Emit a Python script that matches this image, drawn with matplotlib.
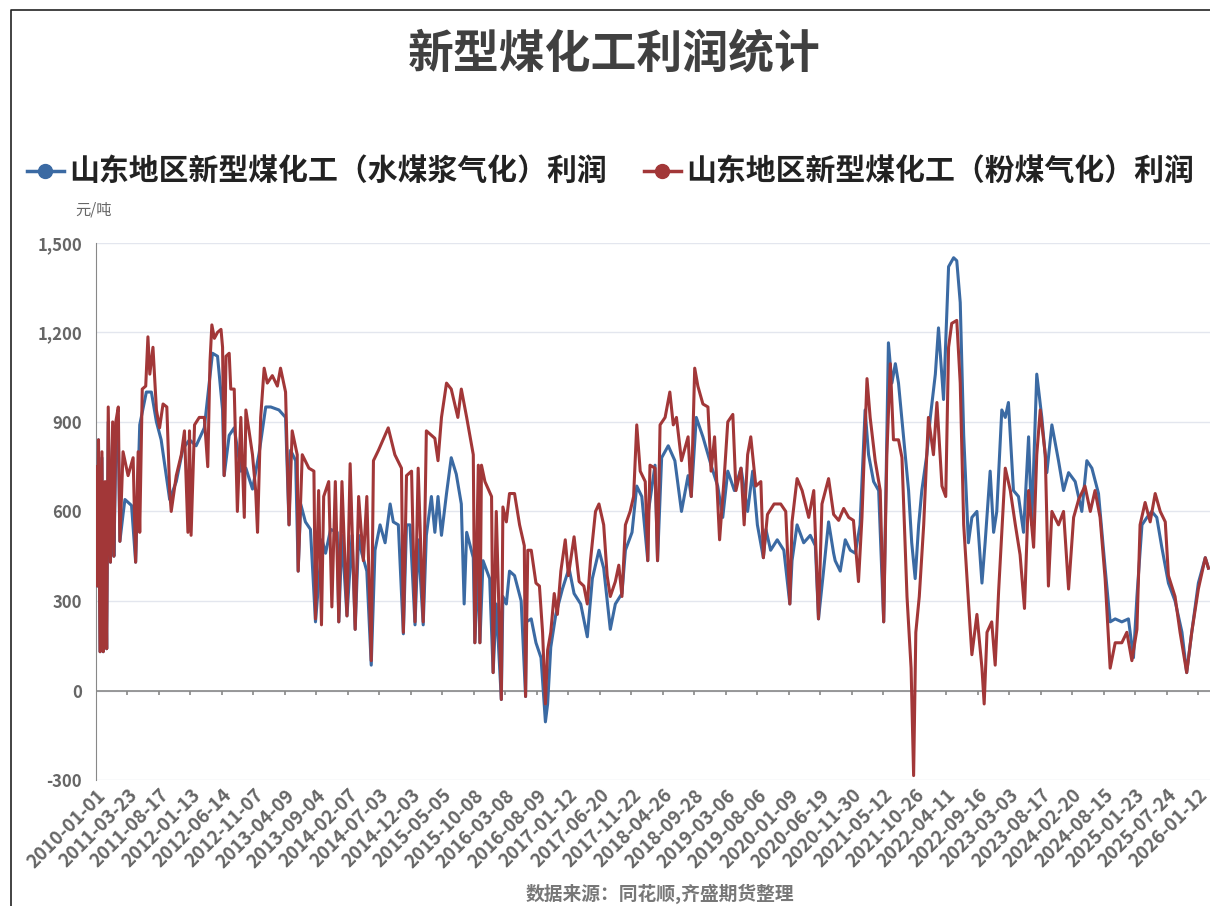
import matplotlib
matplotlib.use("Agg")
import matplotlib.pyplot as plt
import numpy as np

plt.rcParams['font.family'] = ['Noto Sans CJK SC', 'DejaVu Sans']

# x axis category labels (evenly spaced, as in the original category axis)
tick_labels = ["2010-01-01", "2011-03-23", "2011-08-17", "2012-01-13", "2012-06-14", "2012-11-07",
               "2013-04-09", "2013-09-04", "2014-02-07", "2014-07-03", "2014-12-03", "2015-05-05",
               "2015-10-08", "2016-03-08", "2016-08-09", "2017-01-12", "2017-06-20", "2017-11-22",
               "2018-04-26", "2018-09-28", "2019-03-06", "2019-08-06", "2020-01-09", "2020-06-19",
               "2020-11-30", "2021-05-12", "2021-10-26", "2022-04-11", "2022-09-16", "2023-03-03",
               "2023-08-17", "2024-02-20", "2024-08-15", "2025-01-23", "2025-07-24", "2026-01-12"]

# position along the category axis (in label intervals) and profit, yuan/t
red_pos = [0, 0.04, 0.08, 0.13, 0.19, 0.23, 0.29, 0.34, 0.39, 0.46, 0.53, 0.57, 0.63, 0.71, 0.76, 0.86,
           1.02, 1.18, 1.26, 1.34, 1.39, 1.47, 1.58, 1.65, 1.71, 1.81, 1.92, 2.02, 2.13, 2.25, 2.34, 2.39,
           2.55, 2.71, 2.81, 2.92, 2.97, 3.02, 3.13, 3.28, 3.44, 3.55, 3.62, 3.68, 3.76, 3.86, 3.97, 4.02,
           4.07, 4.13, 4.23, 4.28, 4.39, 4.49, 4.6, 4.71, 4.76, 4.86, 4.97, 5.07, 5.13, 5.23, 5.34, 5.44,
           5.6, 5.76, 5.86, 6.02, 6.13, 6.23, 6.39, 6.42, 6.55, 6.76, 6.92, 6.97, 7.07, 7.16, 7.23, 7.39,
           7.49, 7.6, 7.71, 7.81, 7.97, 8.07, 8.23, 8.34, 8.49, 8.6, 8.74, 8.81, 8.97, 9.28, 9.49, 9.7,
           9.76, 9.86, 10.02, 10.13, 10.23, 10.39, 10.49, 10.76, 10.86, 10.97, 11.13, 11.28, 11.49, 11.6,
           11.77, 11.98, 12.03, 12.14, 12.19, 12.24, 12.35, 12.56, 12.61, 12.71, 12.87, 12.92, 13.03, 13.13,
           13.29, 13.45, 13.6, 13.64, 13.71, 13.82, 13.97, 14.08, 14.18, 14.27, 14.34, 14.44, 14.55, 14.65,
           14.76, 14.9, 15.0, 15.18, 15.34, 15.49, 15.6, 15.7, 15.86, 15.97, 16.12, 16.23, 16.33, 16.49,
           16.6, 16.7, 16.81, 16.96, 17.07, 17.17, 17.28, 17.44, 17.52, 17.59, 17.75, 17.83, 17.91, 18.07,
           18.22, 18.33, 18.43, 18.59, 18.8, 18.9, 19.01, 19.11, 19.27, 19.43, 19.53, 19.64, 19.8, 19.95,
           20.06, 20.22, 20.32, 20.48, 20.58, 20.69, 20.79, 20.95, 21.11, 21.19, 21.32, 21.53, 21.74, 21.9,
           22.03, 22.1, 22.26, 22.42, 22.63, 22.79, 22.94, 23.05, 23.26, 23.42, 23.58, 23.74, 23.9, 24.05,
           24.21, 24.32, 24.48, 24.58, 24.74, 24.9, 25.01, 25.11, 25.22, 25.32, 25.48, 25.59, 25.75, 25.88,
           25.96, 26.03, 26.14, 26.28, 26.43, 26.59, 26.7, 26.86, 26.98, 27.07, 27.17, 27.33, 27.44, 27.55,
           27.7, 27.81, 27.97, 28.13, 28.2, 28.29, 28.44, 28.55, 28.66, 28.76, 28.87, 29.03, 29.19, 29.34,
           29.48, 29.61, 29.77, 29.87, 29.98, 30.14, 30.24, 30.35, 30.56, 30.72, 30.88, 31.04, 31.2, 31.4,
           31.57, 31.72, 31.88, 32.04, 32.2, 32.36, 32.57, 32.73, 32.89, 33.05, 33.15, 33.31, 33.47, 33.63,
           33.79, 33.95, 34.05, 34.26, 34.42, 34.63, 34.79, 35.0, 35.22, 35.32]
red_val = [750, 350, 840, 130, 800, 130, 700, 140, 950, 430, 900, 450, 900, 950, 500, 800,
           720, 780, 430, 800, 530, 1010, 1020, 1185, 1060, 1150, 940, 880, 960, 950, 670, 600,
           720, 790, 870, 530, 870, 520, 890, 915, 915, 750, 1100, 1225, 1180, 1200, 1210, 1150,
           720, 1120, 1130, 1010, 1010, 600, 915, 580, 940, 870, 790, 670, 530, 915, 1080, 1030,
           1055, 1020, 1080, 1000, 555, 870, 790, 400, 790, 745, 735, 240, 670, 220, 650, 700,
           280, 700, 230, 700, 250, 760, 205, 650, 435, 650, 100, 770, 805, 880, 790, 745,
           195, 720, 735, 230, 745, 230, 870, 845, 770, 915, 1030, 1010, 915, 1010,
           915, 790, 160, 755, 160, 755, 700, 650, 60, 600, -30, 615, 565, 660,
           660, 555, 485, -20, 470, 470, 360, 350, 195, -45, 135, 195, 325, 255,
           400, 505, 385, 515, 365, 350, 290, 435, 600, 625, 555, 385, 315, 365,
           420, 315, 555, 600, 650, 890, 735, 700, 435, 755, 745, 435, 890, 915,
           1000, 890, 915, 770, 850, 650, 1080, 1020, 960, 950, 735, 850, 505, 720,
           900, 925, 670, 745, 555, 790, 850, 685, 700, 445, 590, 625, 625, 600,
           290, 565, 710, 670, 580, 670, 240, 625, 710, 590, 570, 610, 580, 570,
           365, 580, 1045, 915, 770, 670, 230, 790, 1095, 840, 840, 780, 315, 75,
           -285, 195, 315, 555, 915, 790, 965, 685, 650, 1150, 1230, 1240, 1030, 555,
           300, 120, 255, 75, -45, 195, 230, 85, 335, 530, 745, 670, 555, 455,
           275, 670, 480, 790, 940, 790, 350, 600, 555, 600, 340, 580, 640, 685,
           600, 670, 580, 375, 75, 160, 160, 195, 100, 205, 555, 630, 565, 660,
           600, 565, 385, 315, 195, 60, 195, 340, 445, 410]

blue_pos = [0, 0.04, 0.08, 0.13, 0.19, 0.23, 0.29, 0.34, 0.39, 0.46, 0.53, 0.57, 0.63, 0.71, 0.76, 0.86,
            0.92, 1.13, 1.26, 1.39, 1.6, 1.76, 1.92, 2.07, 2.34, 2.55, 2.76, 2.97, 3.18, 3.44, 3.7, 3.86,
            4.02, 4.07, 4.23, 4.39, 4.6, 4.76, 4.97, 5.18, 5.39, 5.55, 5.81, 6.02, 6.13, 6.18, 6.34, 6.42,
            6.5, 6.65, 6.81, 6.97, 7.18, 7.29, 7.45, 7.66, 7.71, 7.81, 7.97, 8.13, 8.23, 8.34, 8.44, 8.6,
            8.74, 8.86, 9.02, 9.18, 9.34, 9.44, 9.6, 9.76, 9.86, 9.97, 10.13, 10.23, 10.39, 10.49, 10.65,
            10.76, 10.86, 10.97, 11.13, 11.28, 11.44, 11.6,
            11.69, 11.77, 11.98, 12.03, 12.14, 12.19, 12.29, 12.5, 12.61, 12.71, 12.87, 12.92, 13.03, 13.13,
            13.29, 13.5, 13.64, 13.66, 13.82, 13.97, 14.13, 14.27, 14.34, 14.44, 14.6, 14.81, 15.02, 15.18,
            15.39, 15.6, 15.76, 15.97, 16.12, 16.33, 16.49, 16.7, 16.81, 17.02, 17.17, 17.33, 17.52, 17.54,
            17.75, 17.83, 17.96, 18.17, 18.38, 18.59, 18.8, 18.9, 19.06, 19.27, 19.53, 19.74, 19.9, 20.06,
            20.27, 20.48, 20.69, 20.85, 21.0, 21.19, 21.27, 21.42, 21.63, 21.84, 22.03, 22.1, 22.26, 22.47,
            22.68, 22.84, 22.94, 23.1, 23.26, 23.42,
            23.47, 23.63, 23.79, 23.95, 24.11, 24.26, 24.42, 24.53, 24.69, 24.85, 25.01, 25.16, 25.27, 25.38,
            25.48, 25.64, 25.8, 25.9, 26.01, 26.12, 26.22, 26.38, 26.49, 26.65, 26.75, 26.91, 27.07, 27.23,
            27.33, 27.44, 27.55, 27.7, 27.81, 27.97, 28.13, 28.23, 28.39, 28.5, 28.6, 28.76, 28.87, 28.97,
            29.13, 29.29, 29.45, 29.61, 29.71, 29.87, 30.03, 30.19, 30.35, 30.56, 30.72, 30.88, 31.09, 31.3,
            31.46, 31.62, 31.83, 32.04, 32.2, 32.36, 32.57, 32.78, 32.94, 33.05, 33.21, 33.37, 33.52, 33.68,
            33.84, 34.05, 34.26, 34.48, 34.63, 34.79, 35.0, 35.22, 35.32]
blue_val = [750, 350, 840, 130, 780, 130, 680, 140, 900, 430, 850, 450, 800, 850, 500, 590,
            640, 620, 430, 890, 1000, 1000, 900, 840, 640, 700, 810, 840, 820, 880, 1130, 1120,
            940, 720, 855, 880, 735, 745, 675, 795, 950, 950, 940, 915, 555, 805, 770, 400,
            625, 565, 540, 230, 505, 460, 540, 530, 230, 520, 250, 520, 205, 520, 460, 400,
            85, 470, 555, 495, 625, 565, 555, 190, 555, 555, 220, 505, 220, 520, 650,
            530, 650, 520, 660, 780, 725, 625,
            290, 530, 445, 160, 435, 160, 435, 375, 60, 290, -30, 315, 290, 400,
            385, 300, -20, 230, 240, 160, 110, -105, -45, 145, 255, 340, 410, 325,
            290, 180, 375, 470, 410, 205, 290, 325, 470, 530, 685, 650, 435, 600,
            755, 435, 780, 820, 770, 600, 720, 650, 915, 850, 755, 685, 580, 735,
            670, 745, 600, 735, 555, 445, 540, 470, 505, 470, 290, 435, 555, 495,
            520, 485, 240, 400, 565, 460,
            435, 400, 505, 470, 460, 555, 940, 790, 700, 670, 230, 1165, 1030, 1095,
            1030, 850, 670, 495, 375, 555, 670, 790, 915, 1060, 1215, 975, 1420, 1450,
            1440, 1300, 855, 495, 580, 600, 360, 495, 735, 530, 600, 940, 915, 965,
            670, 650, 530, 850, 555, 1060, 915, 730, 890, 770, 670, 730, 700, 600,
            770, 745, 660, 410, 230, 240, 230, 240, 110, 315, 555, 580, 600, 580,
            480, 360, 300, 195, 60, 195, 360, 445, 410]

blue = '#3b6aa3'
red = '#a23738'
grey = '#666666'

fig = plt.figure(figsize=(12.1, 9.06), dpi=100)
ax = fig.add_axes([0.0793, 0.139, 0.9207, 0.593])

ax.plot(blue_pos, blue_val, color=blue, lw=2.2, zorder=3)
ax.plot(red_pos, red_val, color=red, lw=2.2, zorder=4)

ax.set_xlim(0, 35.37)
ax.set_ylim(-300, 1500)
ax.set_yticks(range(-300, 1501, 300))
ax.set_yticklabels([f"{v:,}" for v in range(-300, 1501, 300)], color=grey, fontsize=12, fontweight='bold')
ax.grid(axis='y', color='#e3e6ee', lw=1)
ax.set_axisbelow(True)
for s in ['top', 'right', 'bottom']:
    ax.spines[s].set_visible(False)
ax.spines['left'].set_color('#888888')
ax.tick_params(axis='y', length=0, pad=10)

ticks = np.arange(len(tick_labels))
ax.set_xticks(ticks)
ax.set_xticklabels(tick_labels, rotation=45, ha='right', rotation_mode='anchor',
                   color=grey, fontsize=13.5, fontweight='bold')
ax.tick_params(axis='x', length=0, pad=4)
ax.axhline(0, color='#888888', lw=1.2, zorder=2)
ax.vlines(ticks[1:], -14, 0, color='#888888', lw=1.2, zorder=2)

fig.text(0.508, 0.94, "新型煤化工利润统计", ha='center', va='center', fontsize=33,
         fontweight='bold', color='#404040')

# legend
for x0, col, label in [(0.022, blue, "山东地区新型煤化工（水煤浆气化）利润"),
                       (0.532, red, "山东地区新型煤化工（粉煤气化）利润")]:
    fig.lines.append(plt.Line2D([x0, x0 + 0.031], [0.811, 0.811], color=col, lw=2.5,
                                transform=fig.transFigure))
    fig.lines.append(plt.Line2D([x0 + 0.0155], [0.811], color=col, marker='o', ms=10,
                                transform=fig.transFigure))
    fig.text(x0 + 0.035, 0.811, label, ha='left', va='center', fontsize=21.5,
             fontweight='bold', color='#222222')

fig.text(0.062, 0.768, "元/吨", ha='left', va='center', fontsize=11, color=grey)
fig.text(0.545, 0.013, "数据来源：同花顺,齐盛期货整理", ha='center', va='center',
         fontsize=13.5, fontweight='bold', color='#777777')

# frame line of the screenshot
fig.lines.append(plt.Line2D([0.009, 0.009, 1.0], [0.0, 0.989, 0.989], color='#222222', lw=1.2,
                            transform=fig.transFigure))

fig.savefig("out.png", dpi=100)
